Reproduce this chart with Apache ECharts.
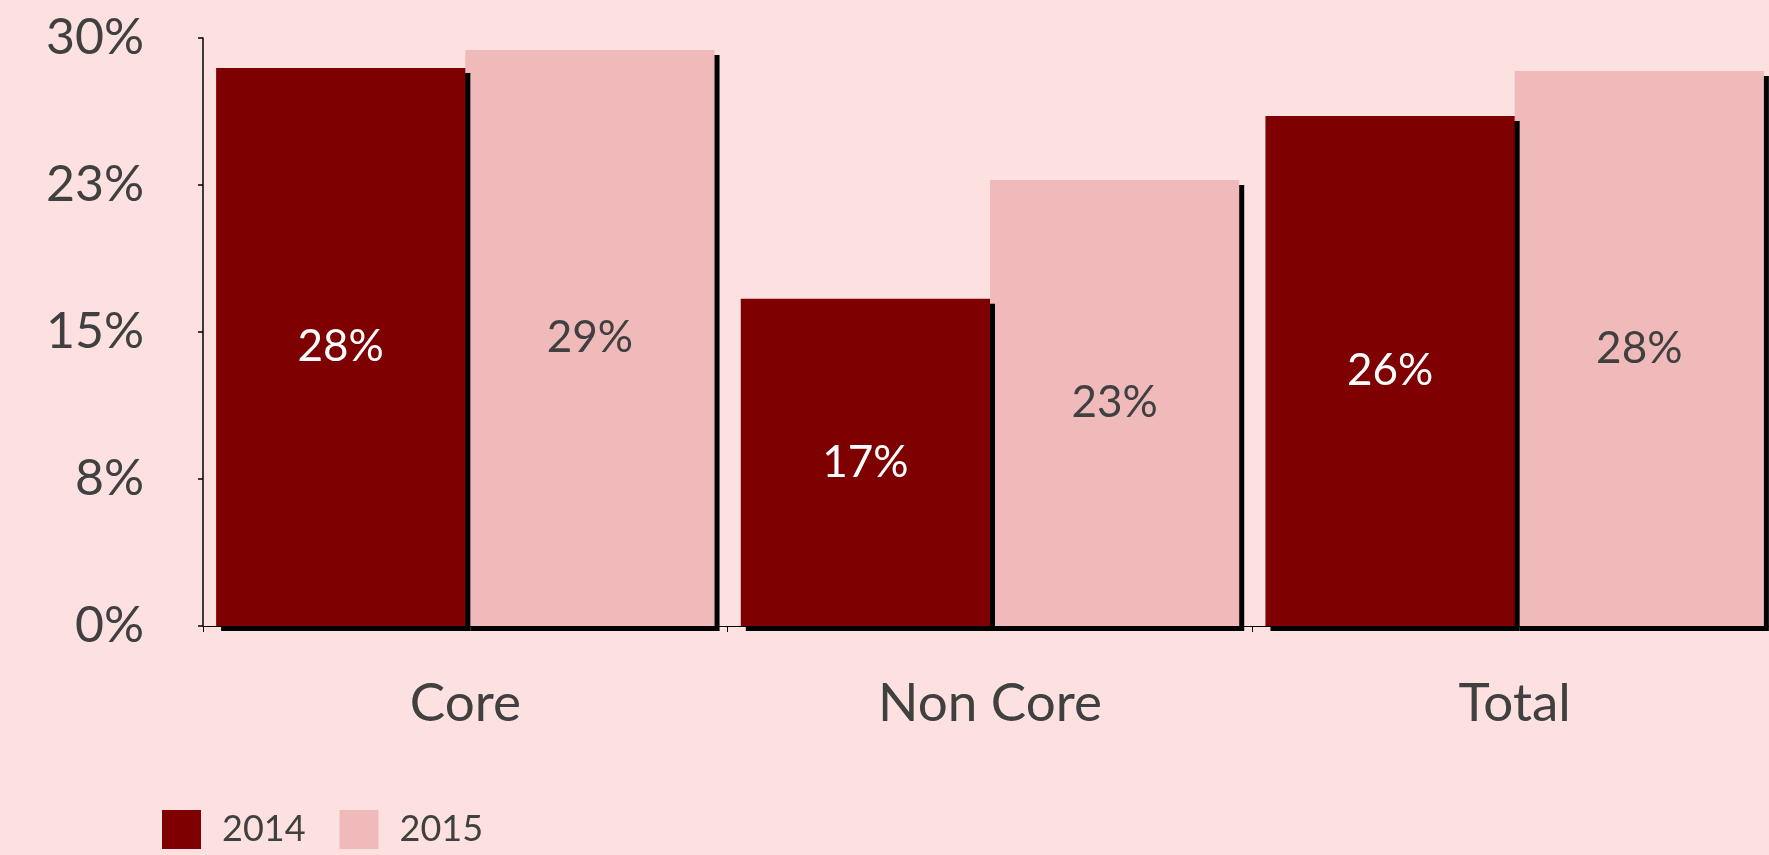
<!DOCTYPE html>
<html>
<head>
<meta charset="utf-8">
<style>
  html, body { margin: 0; padding: 0; background: #FDE1E1; overflow: hidden; }
  /* the plot runs a little past the right edge of the page, so the canvas is wider than the window */
  #chart { width: 1777px; height: 855px; }
</style>
<script src="https://cdn.jsdelivr.net/npm/echarts@6/dist/echarts.min.js"></script>
</head>
<body>
<div id="chart"></div>
<script>
// Segment names along the x axis
const categories = ['Core', 'Non Core', 'Total'];
// Share by segment, in percent
const values2014 = [28.47, 16.7, 26.02];
const values2015 = [29.39, 22.75, 28.32];
// Y axis: 0–30% in four steps, labels rounded to whole percents
const yMax = 30;
const yStep = 7.5;

const textColor = '#404040';
const fontFamily = 'Lato, "Open Sans", sans-serif';

const barShadow = {
  shadowColor: '#000000',
  shadowBlur: 0,
  shadowOffsetX: 5,
  shadowOffsetY: 5
};

const chart = echarts.init(document.getElementById('chart'), null, { renderer: 'canvas' });

chart.setOption({
  backgroundColor: '#FDE1E1',
  animation: false,
  textStyle: { fontFamily: fontFamily },
  grid: { left: 203, right: 0, top: 38, bottom: 229, containLabel: false },
  legend: {
    left: 157,
    top: 805,
    itemWidth: 39,
    itemHeight: 39,
    itemGap: 34,
    icon: 'rect',
    textStyle: { color: textColor, fontSize: 36, fontFamily: fontFamily, padding: [0, 0, 0, 16] },
    data: ['2014', '2015']
  },
  xAxis: {
    type: 'category',
    data: categories,
    axisLine: { show: true, lineStyle: { color: '#000', width: 1 } },
    axisTick: { show: true, length: 6, lineStyle: { color: '#000', width: 1 } },
    axisLabel: { color: textColor, fontSize: 53, margin: 51, fontFamily: fontFamily },
    splitLine: { show: false }
  },
  yAxis: {
    type: 'value',
    min: 0,
    max: yMax,
    interval: yStep,
    axisLine: { show: true, lineStyle: { color: '#000', width: 1.5 } },
    axisTick: { show: true, length: 5, lineStyle: { color: '#000', width: 1.5 } },
    axisLabel: {
      color: textColor,
      fontSize: 50,
      margin: 59,
      fontFamily: fontFamily,
      formatter: v => Math.round(v) + '%'
    },
    splitLine: { show: false }
  },
  series: [
    {
      name: '2014',
      type: 'bar',
      z: 3,
      data: values2014,
      barGap: '0%',
      barCategoryGap: '5%',
      itemStyle: Object.assign({ color: '#7E0000' }, barShadow),
      label: {
        show: true,
        position: 'inside',
        color: '#ffffff',
        fontSize: 44,
        fontFamily: fontFamily,
        formatter: p => Math.round(p.value) + '%'
      }
    },
    {
      name: '2015',
      type: 'bar',
      z: 2,
      data: values2015,
      barGap: '0%',
      barCategoryGap: '5%',
      itemStyle: Object.assign({ color: '#F0BABA' }, barShadow),
      label: {
        show: true,
        position: 'inside',
        color: textColor,
        fontSize: 44,
        fontFamily: fontFamily,
        formatter: p => Math.round(p.value) + '%'
      }
    }
  ]
});
</script>
</body>
</html>
